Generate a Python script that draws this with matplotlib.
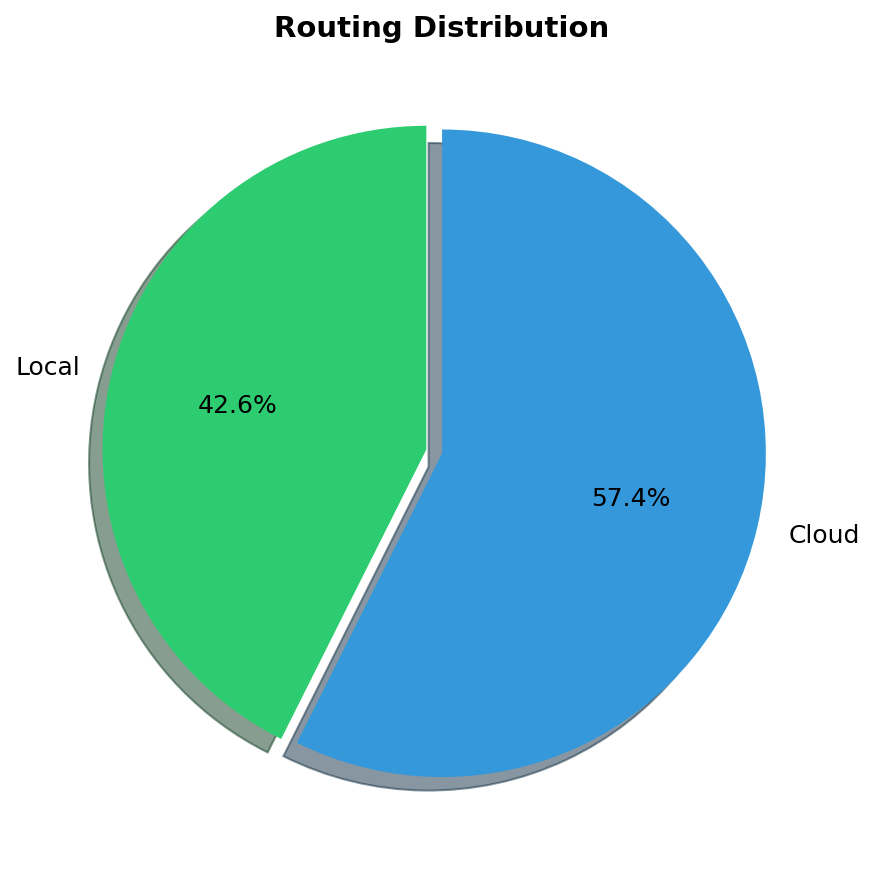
import matplotlib
matplotlib.use('Agg')
import matplotlib.pyplot as plt

labels = ['Local', 'Cloud']
sizes = [42.6, 57.4]
colors = ['#2ecc71', '#3498db']
explode = (0.05, 0)

fig, ax = plt.subplots(figsize=(6, 6), dpi=150)
ax.pie(sizes, labels=labels, colors=colors, explode=explode, autopct='%1.1f%%',
       shadow=True, startangle=90, textprops={'fontsize': 12})
ax.set_title('Routing Distribution', fontsize=14, fontweight='bold')
plt.tight_layout()
plt.savefig('out.png', dpi=150, bbox_inches='tight')
